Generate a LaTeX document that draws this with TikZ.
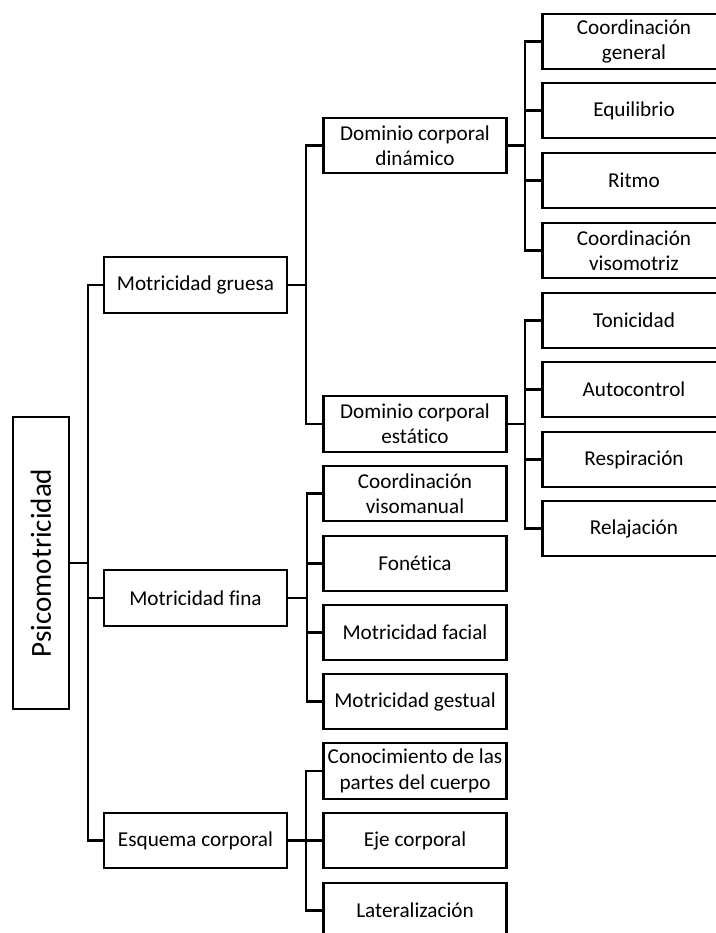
\documentclass[tikz,border=0pt]{standalone}
\usepackage{fontspec}
\setmainfont[Ligatures=NoCommon]{Carlito}
\begin{document}
\begin{tikzpicture}[x=0.75pt,y=-0.75pt,
  box/.style={draw=black, line width=1.8pt, rectangle, inner sep=0pt,
    minimum width=137.25pt, minimum height=41.6pt, align=center,
    font=\fontsize{15.9}{19}\selectfont},
  rootbox/.style={draw=black, line width=1.8pt, rectangle, inner sep=0pt,
    minimum width=42pt, minimum height=219pt,
    font=\fontsize{21.8}{26}\selectfont},
  link/.style={draw=black, line width=1.8pt}]
\clip (0,0) rectangle (716,933);
% root
\node[rootbox] (root) at (41,563) {\rotatebox{90}{Psicomotricidad}};
% level 1
\node[box] (gru) at (195.5,285) {Motricidad gruesa};
\node[box] (fin) at (195.5,598) {Motricidad fina};
\node[box] (esq) at (195.5,840.5) {Esquema corporal};
% level 2
\node[box] (din) at (415,145.5) {Dominio corporal\\dinámico};
\node[box] (est) at (415,424) {Dominio corporal\\estático};
\node[box] (vma) at (415,493.5) {Coordinación\\visomanual};
\node[box] (fon) at (415,563.5) {Fonética};
\node[box] (fac) at (415,632.5) {Motricidad facial};
\node[box] (ges) at (415,701.5) {Motricidad gestual};
\node[box] (con) at (415,771) {Conocimiento de las\\partes del cuerpo};
\node[box] (eje) at (415,840.5) {Eje corporal};
\node[box] (lat) at (415,910.5) {Lateralización};
% level 3
\node[box] (cge) at (634,41.5) {Coordinación\\general};
\node[box] (equ) at (634,110.5) {Equilibrio};
\node[box] (rit) at (634,180.5) {Ritmo};
\node[box] (vmo) at (634,250.5) {Coordinación\\visomotriz};
\node[box] (ton) at (634,320.5) {Tonicidad};
\node[box] (aut) at (634,389.5) {Autocontrol};
\node[box] (res) at (634,459.5) {Respiración};
\node[box] (rel) at (634,528.5) {Relajación};
% connectors
\foreach \c in {gru,fin,esq} \draw[link] (root.east) -- ++(18,0) |- (\c.west);
\foreach \c in {din,est} \draw[link] (gru.east) -- ++(18,0) |- (\c.west);
\foreach \c in {vma,fon,fac,ges} \draw[link] (fin.east) -- ++(19,0) |- (\c.west);
\foreach \c in {con,eje,lat} \draw[link] (esq.east) -- ++(18,0) |- (\c.west);
\foreach \c in {cge,equ,rit,vmo} \draw[link] (din.east) -- ++(17,0) |- (\c.west);
\foreach \c in {ton,aut,res,rel} \draw[link] (est.east) -- ++(17,0) |- (\c.west);
\end{tikzpicture}
\end{document}
